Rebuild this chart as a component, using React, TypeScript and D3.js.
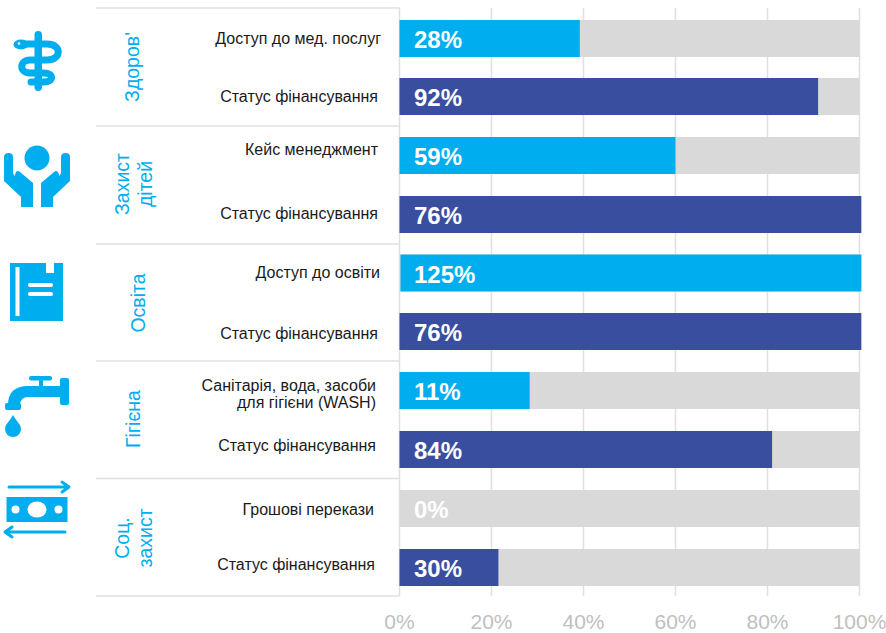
import React from "react";
import * as d3 from "d3";

const barLabels = [
  ["Доступ до мед. послуг"], ["Статус фінансування"],
  ["Кейс менеджмент"], ["Статус фінансування"],
  ["Доступ до освіти"], ["Статус фінансування"],
  ["Санітарія, вода, засоби", "для гігієни (WASH)"], ["Статус фінансування"],
  ["Грошові перекази"], ["Статус фінансування"],
];
const labelRight = [381, 378, 378, 378, 380, 378, 376, 376, 374, 375];
const labelY = [44, 102, 155, 219, 278, 339, 392, 451, 515, 570];
const barLengths = [39.2, 91, 60, 100.4, 100.2, 100.4, 28.3, 81, 0, 21.5];
const valueLabels = ["28%", "92%", "59%", "76%", "125%", "76%", "11%", "84%", "0%", "30%"];
const kinds = ["a", "b", "a", "b", "a", "b", "a", "b", "a", "b"];
const barTops = [20, 78, 137, 196, 254.5, 313, 372, 431, 490, 549];
const ticks = [0, 20, 40, 60, 80, 100];
const separators = [8, 126, 244, 361, 478.5, 596];
const groups = [
  { lines: ["Здоров'"], x: 139, y: 67 },
  { lines: ["Захист", "дітей"], x: 129, y: 184 },
  { lines: ["Освіта"], x: 145, y: 303 },
  { lines: ["Гігієна"], x: 140, y: 419 },
  { lines: ["Соц.", "захист"], x: 129, y: 538 },
];

const BLUE = "#00AEEF";
const NAVY = "#3A4EA0";
const GREY = "#D9D9D9";
const LINE = "#E0E0E0";
const FONT = "Liberation Sans, Arial, sans-serif";

const x = d3.scaleLinear().domain([0, 100]).range([399.5, 859.5]);

const Health = () => (
  <g fill="none" stroke={BLUE}>
    <rect x="34.5" y="31" width="7.5" height="60" rx="3.7" fill={BLUE} stroke="none" />
    <path d="M19 44 H47 C62 44 62 60 47 60 H30 C19 60 19 73 30 73 H44 C54 73 54 82 44 82 H31" strokeWidth="7" strokeLinecap="round" />
    <ellipse cx="21" cy="44.5" rx="7.5" ry="5" fill={BLUE} stroke="none" />
    <circle cx="19" cy="43.5" r="1.2" fill="#fff" stroke="none" />
  </g>
);
const Hands = () => (
  <g fill={BLUE}>
    <circle cx="37" cy="158" r="12.5" />
    <path d="M4 157 Q4 153 8.5 153 Q13 153 13 157 V173 L14.5 176 L16 172 Q18 170 20 172 L33 183 V207 H21 V197 L4 181 Z" />
    <path d="M70 157 Q70 153 65.5 153 Q61 153 61 157 V173 L59.5 176 L58 172 Q56 170 54 172 L41 183 V207 H53 V197 L70 181 Z" />
  </g>
);
const Book = () => (
  <g>
    <path d="M10 263 H46 V273 H54 V263 H63 V321 H10 Z" fill={BLUE} />
    <rect x="15.5" y="267" width="4" height="49" fill="#fff" />
    <rect x="28" y="283" width="25" height="4" rx="2" fill="#fff" />
    <rect x="28" y="292" width="25" height="4" rx="2" fill="#fff" />
  </g>
);
const Tap = () => (
  <g fill={BLUE}>
    <rect x="29" y="376" width="23" height="4.5" rx="2" />
    <rect x="39" y="378" width="4" height="10" />
    <rect x="60" y="378" width="9" height="27" rx="2" />
    <path d="M61 386 V397 H28 Q21 397 20 404 H20 V409 H8 V405 Q8 386 28 386 Z" />
    <rect x="5" y="403" width="16" height="7" rx="2" />
    <path d="M13 415 C16 421 21 424 21 429 A8 8 0 0 1 5 429 C5 424 10 421 13 415 Z" />
  </g>
);
const Money = () => (
  <g>
    <rect x="6.5" y="497" width="61" height="25" fill={BLUE} />
    <ellipse cx="37" cy="509.5" rx="9.5" ry="8" fill="#fff" />
    <circle cx="15.5" cy="509.5" r="4" fill="#fff" />
    <circle cx="58.5" cy="509.5" r="4" fill="#fff" />
    <path d="M9 487 H68 M62 482 L69 487 L62 492" fill="none" stroke={BLUE} strokeWidth="3" strokeLinecap="round" strokeLinejoin="round" />
    <path d="M65 532 H6 M12 527 L5 532 L12 537" fill="none" stroke={BLUE} strokeWidth="3" strokeLinecap="round" strokeLinejoin="round" />
  </g>
);

export default function App() {
  return (
    <svg width={886} height={633} style={{ position: "absolute", left: 0, top: 0, background: "#fff" }} fontFamily={FONT}>
      {ticks.map((t) => (
        <line key={t} x1={x(t)} x2={x(t)} y1={8} y2={596} stroke={LINE} strokeWidth={1.5} />
      ))}
      {separators.map((y) => (
        <line key={y} x1={96} x2={x(0)} y1={y} y2={y} stroke={LINE} strokeWidth={1.5} />
      ))}
      {barLengths.map((v, i) => (
        <g key={i}>
          <rect x={x(0)} y={barTops[i]} width={x(100) - x(0)} height={37} fill={GREY} />
          <rect x={i === 4 ? x(0) + 1 : x(0)} y={barTops[i]} width={x(v) - x(0)} height={37} fill={kinds[i] === "a" ? BLUE : NAVY} />
          <text x={414} y={barTops[i] + 28} fontSize={24} fontWeight={700} fill="#fff">{valueLabels[i]}</text>
          <text textAnchor="end" fontSize={16} fill="#1a1a1a">
            {barLabels[i].map((l, j) => (
              <tspan key={j} x={labelRight[i]} y={labelY[i] + j * 17 + (barLabels[i].length > 1 ? -1 : 0)}>{l}</tspan>
            ))}
          </text>
        </g>
      ))}
      {groups.map((g, i) => (
        <text key={i} transform={`translate(${g.x},${g.y}) rotate(-90)`} textAnchor="middle" fontSize={19.5} fill={BLUE}>
          {g.lines.map((l, j) => (
            <tspan key={j} x={0} y={j * 23}>{l}</tspan>
          ))}
        </text>
      ))}
      {ticks.map((t) => (
        <text key={t} x={x(t)} y={629} textAnchor="middle" fontSize={21} fill="#BFBFBF">{t}%</text>
      ))}
      <Health />
      <Hands />
      <Book />
      <Tap />
      <Money />
    </svg>
  );
}
